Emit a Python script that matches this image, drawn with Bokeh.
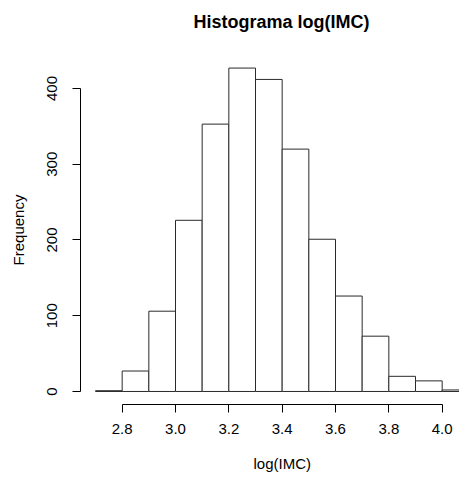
from bokeh.plotting import figure
from bokeh.models import FixedTicker, Range1d, NumeralTickFormatter, Title
from bokeh.embed import file_html
from bokeh.resources import INLINE

# Histogram of log(IMC): class breaks every 0.1 and the count in each class
breaks = [2.7, 2.8, 2.9, 3.0, 3.1, 3.2, 3.3, 3.4, 3.5, 3.6, 3.7, 3.8, 3.9, 4.0, 4.1]
counts = [1, 27, 106, 226, 353, 427, 412, 320, 201, 126, 73, 20, 14, 2]

x_ticks = [2.8, 3.0, 3.2, 3.4, 3.6, 3.8, 4.0]
y_ticks = [0, 100, 200, 300, 400]

FONT = "Liberation Sans"

p = figure(
    width=459, height=477,
    output_backend="svg", toolbar_location=None,
    x_range=Range1d(2.64375, 4.065),
    y_range=Range1d(-17.2, 443.6),
    min_border_left=80, min_border_right=0,
    min_border_top=55, min_border_bottom=73,
)
p.outline_line_color = None
p.grid.visible = False
p.background_fill_color = "white"
p.border_fill_color = "white"

p.quad(left=breaks[:-1], right=breaks[1:], bottom=0, top=counts,
       fill_color="white", line_color="#2a2a2a", line_width=1)

# empty spacer line between the frame and the main title
p.add_layout(Title(text=" ", text_font=FONT, text_font_size="16px",
                   standoff=0), "above")
p.add_layout(Title(text="Histograma log(IMC)", align="left", offset=113,
                   text_font=FONT, text_font_size="18px",
                   text_font_style="bold", text_color="black"), "above")

for ax in (p.xaxis[0], p.yaxis[0]):
    ax.axis_line_color = "black"
    ax.major_tick_line_color = "black"
    ax.minor_tick_line_color = None
    ax.major_tick_in = 0
    ax.major_tick_out = 8
    ax.major_label_text_font = FONT
    ax.major_label_text_font_size = "15px"
    ax.major_label_text_color = "black"
    ax.axis_label_text_font = FONT
    ax.axis_label_text_font_size = "15px"
    ax.axis_label_text_font_style = "normal"
    ax.axis_label_text_color = "black"

p.xaxis.bounds = (2.8, 4.0)
p.xaxis.ticker = FixedTicker(ticks=x_ticks)
p.xaxis.formatter = NumeralTickFormatter(format="0.0")
p.xaxis.major_label_standoff = 11

# spacer below the tick labels, then the x axis caption centred under the axis span
p.add_layout(Title(text=" ", text_font=FONT, text_font_size="8px",
                   standoff=0), "below")
p.add_layout(Title(text="log(IMC)", align="left", offset=173,
                   text_font=FONT, text_font_size="15px",
                   text_font_style="normal", text_color="black"), "below")

p.yaxis.bounds = (0, 400)
p.yaxis.ticker = FixedTicker(ticks=y_ticks)
p.yaxis.axis_label = "Frequency"
p.yaxis.major_label_orientation = "vertical"
p.yaxis.major_label_standoff = 15
p.yaxis.axis_label_standoff = 18

open("out.html", "w").write(file_html(p, INLINE))
